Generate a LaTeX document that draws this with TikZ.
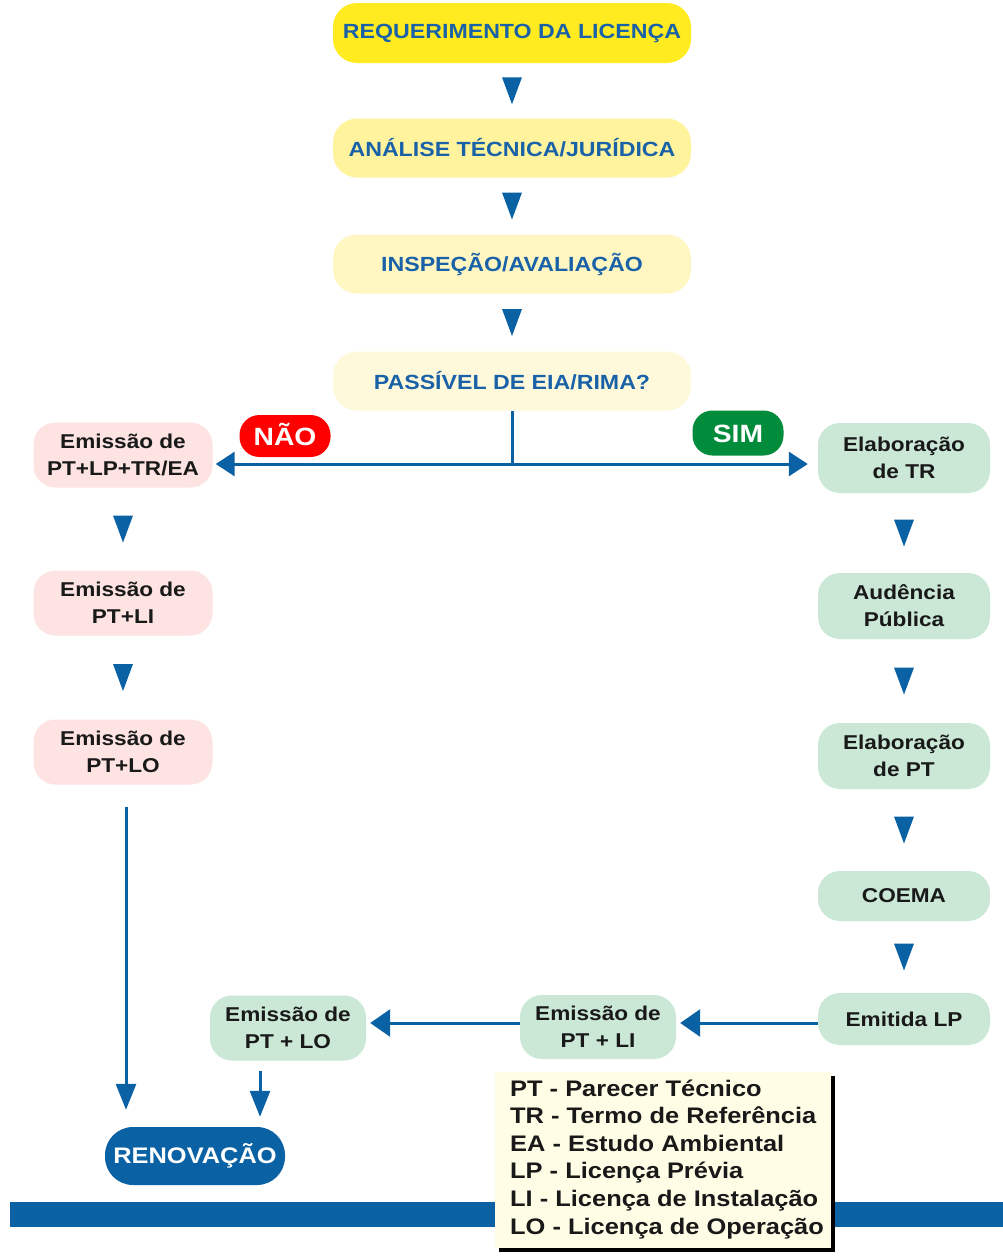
\documentclass[tikz,border=0pt]{standalone}
\usepackage{fontspec}
\setmainfont{Liberation Sans}[FakeStretch=1.13]
\usetikzlibrary{arrows.meta,shadows,calc}
\definecolor{yA}{HTML}{FFEB1F}
\definecolor{yB}{HTML}{FFF39E}
\definecolor{yC}{HTML}{FFF6C2}
\definecolor{yD}{HTML}{FFF9DC}
\definecolor{pinkbox}{HTML}{FDE3E1}
\definecolor{greenbox}{HTML}{CBE8D7}
\definecolor{flowblue}{HTML}{0A62A5}
\definecolor{txtblue}{HTML}{1A62A8}
\definecolor{naored}{HTML}{FF0000}
\definecolor{simgreen}{HTML}{008C3A}
\definecolor{legendbg}{HTML}{FFFDE6}
\tikzset{
  topbox/.style={rounded corners=24pt, minimum width=358pt, minimum height=59pt, inner sep=0pt,
    text=txtblue, font=\fontsize{20.5}{24}\selectfont\bfseries},
  sidebox/.style={rounded corners=22pt, minimum width=176pt, inner sep=0pt, align=center,
    text=black!90, font=\fontsize{20}{27}\selectfont\bfseries},
  pinkb/.style={sidebox, fill=pinkbox, minimum width=179pt, minimum height=65pt},
  greenb/.style={sidebox, fill=greenbox, minimum width=172pt},
  botb/.style={sidebox, fill=greenbox, minimum width=156pt, minimum height=64pt},
  badge/.style={rounded corners=20pt, minimum width=91pt, inner sep=0pt, text=white,
    text height=18pt, text depth=0pt, font=\fontsize{25}{28}\selectfont\bfseries},
  flowline/.style={draw=flowblue, line width=3pt},
  harrow/.style={flowline, -{Triangle[width=24pt,length=19pt]}},
  barrow/.style={flowline, -{Triangle[width=27pt,length=20pt]}},
  varrow/.style={flowline, -{Triangle[width=20pt,length=26pt]}},
}
\newcommand{\downtri}[2]{\fill[flowblue] ($(#1.south)!0.5!(#2.north)$) ++(-10pt,13.5pt) -- ++(20pt,0pt) -- ++(-10pt,-27pt) -- cycle;}
\begin{document}
\begin{tikzpicture}[x=1pt,y=-1pt]
\useasboundingbox (0,0) rectangle (1003,1256);
\fill[white] (0,0) rectangle (1003,1256);
% top column
\node[topbox, fill=yA, minimum height=60pt] (req) at (512,33) {REQUERIMENTO DA LICENÇA};
\node[topbox, fill=yB] (ana) at (512,148) {ANÁLISE TÉCNICA/JURÍDICA};
\node[topbox, fill=yC] (insp) at (512,264) {INSPEÇÃO/AVALIAÇÃO};
\node[topbox, fill=yD] (pass) at (512,381) {PASSÍVEL DE EIA/RIMA?};
\downtri{req}{ana}
\downtri{ana}{insp}
\downtri{insp}{pass}
% left column
\node[pinkb] (l1) at (123,455) {Emissão de\\PT+LP+TR/EA};
\node[pinkb] (l2) at (123,603) {Emissão de\\PT+LI};
\node[pinkb] (l3) at (123,752) {Emissão de\\PT+LO};
\downtri{l1}{l2}
\downtri{l2}{l3}
% right column
\node[greenb, minimum height=70pt] (r1) at (904,458) {Elaboração\\de TR};
\node[greenb, minimum height=66pt] (r2) at (904,606) {Audência\\Pública};
\node[greenb, minimum height=66pt] (r3) at (904,756) {Elaboração\\de PT};
\node[greenb, minimum height=50pt] (r4) at (904,896) {COEMA};
\node[greenb, minimum height=52pt] (r5) at (904,1019) {Emitida LP};
\downtri{r1}{r2}
\downtri{r2}{r3}
\downtri{r3}{r4}
\downtri{r4}{r5}
% junction
\coordinate (j) at (512,464);
\draw[flowline] (pass.south) -- (j);
\draw[harrow] (j) -- ([xshift=3pt]l1.east |- j);
\draw[harrow] (j) -- ([xshift=-10pt]r1.west |- j);
\node[badge, fill=naored, minimum height=42pt] (nao) at (285,436) {NÃO};
\node[badge, fill=simgreen, minimum height=45pt] (sim) at (738,433) {SIM};
% bottom row
\node[botb] (b2) at (598,1027) {Emissão de\\PT + LI};
\node[botb, minimum height=65pt] (b1) at (288,1028) {Emissão de\\PT + LO};
\node[rounded corners=28pt, fill=flowblue, minimum width=180pt, minimum height=58pt, inner sep=0pt,
  text=white, font=\fontsize{22.5}{26}\selectfont\bfseries] (ren) at (195,1156) {RENOVAÇÃO};
\draw[barrow, shorten >=4pt] (r5.west |- 0,1023) -- (b2.east |- 0,1023);
\draw[barrow, shorten >=4pt] (b2.west |- 0,1023) -- (b1.east |- 0,1023);
\draw[varrow, shorten <=10pt, shorten >=10pt] ([xshift=-28pt]b1.south) -- ([xshift=-28pt]b1.south |- ren.north);
\draw[varrow, shorten <=22pt, shorten >=17pt] ([xshift=3pt]l3.south) -- ([xshift=3pt]l3.south |- ren.north);
% bottom bar and legend
\fill[flowblue] (10,1202) rectangle (1003,1227);
\node[anchor=north west, fill=legendbg, minimum width=336pt, minimum height=176pt, inner sep=0pt,
  drop shadow={shadow xshift=4pt, shadow yshift=-4pt, fill=black, opacity=1}] (legbox) at (495,1072) {};
\node[anchor=west, inner sep=0pt, align=left, font=\fontsize{22.5}{27.6}\selectfont\bfseries, text=black!90]
  (leg) at ([xshift=15pt, yshift=1pt]legbox.west)
  {PT - Parecer Técnico\\TR - Termo de Referência\\EA - Estudo Ambiental\\LP - Licença Prévia\\LI - Licença de Instalação\\LO - Licença de Operação};
\end{tikzpicture}
\end{document}
